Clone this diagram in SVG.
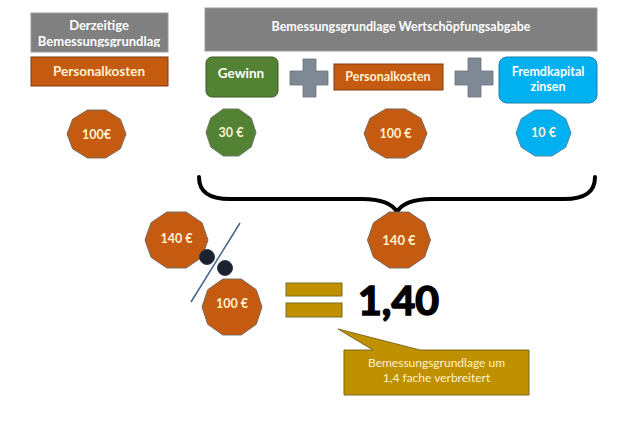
<svg xmlns="http://www.w3.org/2000/svg" xmlns:xlink="http://www.w3.org/1999/xlink" width="626" height="426" viewBox="0 0 626 426">
<style>
.gray{fill:#808080;stroke:#9a9a9a;stroke-width:1}
.orange{fill:#C55A11;stroke:#7e3a0c;stroke-width:1}
.green{fill:#548235;stroke:#3b5c25;stroke-width:1}
.blue{fill:#00B0F0;stroke:#1680a8;stroke-width:1}
.plus{fill:#7F8996;stroke:#6a7480;stroke-width:0.8}
.gold{fill:#BF9000;stroke:#7f6a20;stroke-width:1}
.oct-or{fill:#C55A11;stroke:#7a6a60;stroke-width:1}
.oct-gr{fill:#548235;stroke:#6b7a60;stroke-width:1}
.oct-bl{fill:#00B0F0;stroke:#4a8aa8;stroke-width:1}
.t{font-family:Lato,"Open Sans","Liberation Sans",sans-serif;font-weight:bold;text-anchor:middle}
.w{fill:#ffffff}
.c{fill:#FFF2CC}
.brace{fill:none;stroke:#000;stroke-width:4;stroke-linecap:round;stroke-linejoin:round}
</style>
<defs>
<polygon id="dec" points="1,0 0.809,0.588 0.309,0.951 -0.309,0.951 -0.809,0.588 -1,0 -0.809,-0.588 -0.309,-0.951 0.309,-0.951 0.809,-0.588" vector-effect="non-scaling-stroke"/>
<clipPath id="clipL"><rect x="31" y="13" width="137" height="34"/></clipPath>
</defs>
<rect width="626" height="426" fill="#ffffff"/>

<g id="current-base">
<rect class="gray" x="31" y="13" width="137" height="39"/>
<g clip-path="url(#clipL)">
<text class="t w" x="99" y="30" font-size="13">Derzeitige</text>
<text class="t w" x="99" y="46" font-size="13">Bemessungsgrundlag</text>
</g>
</g>
<g id="personal-left">
<rect class="orange" x="31" y="57" width="137" height="29"/>
<text class="t c" x="99" y="76" font-size="13.5">Personalkosten</text>
</g>
<g id="new-base">
<rect class="gray" x="205" y="8" width="392" height="43"/>
<text class="t w" x="401" y="31" font-size="12.5">Bemessungsgrundlage Wertschöpfungsabgabe</text>
</g>
<g id="gewinn">
<rect class="green" x="206" y="57" width="72" height="40" rx="6"/>
<text class="t w" x="241" y="78" font-size="13.5">Gewinn</text>
</g>
<g id="plus1">
<path class="plus" d="M303,59 H316 V71 H328 V85 H316 V97 H303 V85 H290 V71 H303 Z"/>
</g>
<g id="personal-mid">
<rect class="orange" x="334" y="64" width="109" height="26"/>
<text class="t c" x="388" y="81" font-size="12.5">Personalkosten</text>
</g>
<g id="plus2">
<path class="plus" d="M468,58 H481 V71 H493 V85 H481 V97 H468 V85 H455 V71 H468 Z"/>
</g>
<g id="fremdkapital">
<rect class="blue" x="499" y="57" width="98" height="46" rx="8"/>
<text class="t w" x="548" y="76" font-size="12.5">Fremdkapital</text>
<text class="t w" x="548" y="91" font-size="12.5">zinsen</text>
</g>

<g id="val-100-left">
<use xlink:href="#dec" class="oct-or" transform="translate(96.5,134) scale(29.5,25.2)"/>
<text class="t c" x="96.5" y="138.5" font-size="12.5">100€</text>
</g>
<g id="val-30">
<use xlink:href="#dec" class="oct-gr" transform="translate(231,132.5) scale(25,24.7)"/>
<text class="t c" x="231" y="136.5" font-size="12.5">30 €</text>
</g>
<g id="val-100-mid">
<use xlink:href="#dec" class="oct-or" transform="translate(395.5,133.5) scale(31.5,25.8)"/>
<text class="t c" x="395.5" y="137.5" font-size="12.5">100 €</text>
</g>
<g id="val-10">
<use xlink:href="#dec" class="oct-bl" transform="translate(543.5,133) scale(27.5,24.2)"/>
<text class="t c" x="543.5" y="137" font-size="12.5">10 €</text>
</g>

<g id="connectors">
<path class="brace" d="M199,177 C199,192 209,199 230,199 L362,199 C384,199 393,205 397,212 C401,205 410,199 432,199 L564,199 C585,199 595,192 595,177"/>
<line x1="240" y1="223" x2="191" y2="302" stroke="#44648a" stroke-width="1.5"/>
</g>

<g id="val-140-sum">
<use xlink:href="#dec" class="oct-or" transform="translate(399,240) scale(31.5,29.4)"/>
<text class="t c" x="399" y="244.5" font-size="13">140 €</text>
</g>
<g id="val-140-left">
<use xlink:href="#dec" class="oct-or" transform="translate(176.5,240) scale(31.5,29.4)"/>
<text class="t c" x="176.5" y="242.5" font-size="12.5">140 €</text>
</g>
<g id="divide-dots">
<circle cx="207" cy="257" r="7.5" fill="#1c2130" stroke="#2c3852" stroke-width="1"/>
<circle cx="225" cy="268" r="7.5" fill="#1c2130" stroke="#2c3852" stroke-width="1"/>
</g>
<g id="val-100-bottom">
<use xlink:href="#dec" class="oct-or" transform="translate(232,307) scale(30,29.4)"/>
<text class="t c" x="232" y="307.5" font-size="12.5">100 €</text>
</g>

<g id="equals">
<rect class="gold" x="286" y="283" width="56" height="13"/>
<rect class="gold" x="286" y="303" width="56" height="14"/>
</g>
<g id="result">
<text class="t" x="398.5" y="315" font-size="41" fill="#000" stroke="#000" stroke-width="1.6">1,40</text>
</g>
<g id="callout">
<path class="gold" d="M344,350 L373,350 L338,329 L420,350 L529,350 L529,395 L344,395 Z"/>
<text x="436.5" y="367" font-size="12" fill="#FFF2CC" text-anchor="middle" font-family="Lato,'Open Sans','Liberation Sans',sans-serif">Bemessungsgrundlage um</text>
<text x="436.5" y="382" font-size="12" fill="#FFF2CC" text-anchor="middle" font-family="Lato,'Open Sans','Liberation Sans',sans-serif">1,4 fache verbreitert</text>
</g>
</svg>
